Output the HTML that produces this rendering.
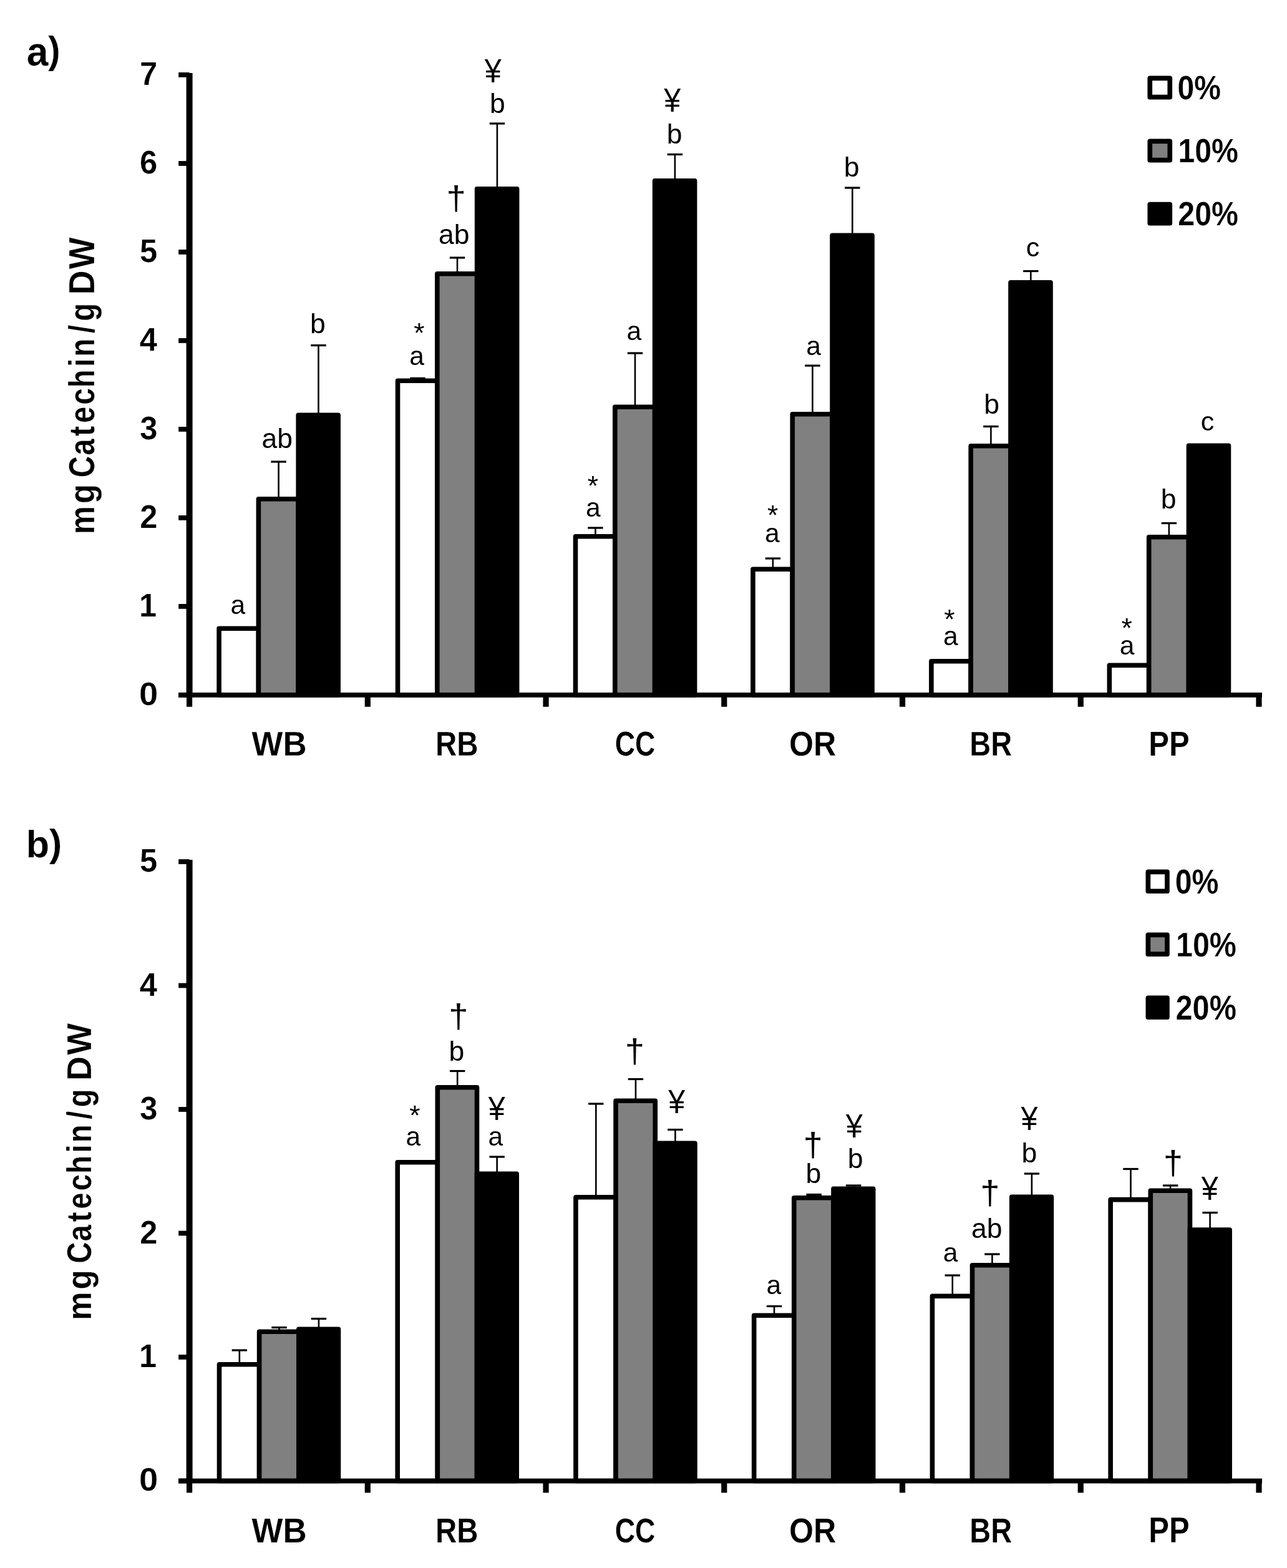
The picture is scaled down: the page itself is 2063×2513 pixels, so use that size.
<!DOCTYPE html>
<html lang="en">
<head>
<meta charset="utf-8">
<title>Catechin content</title>
<style>
html,body{margin:0;padding:0;background:#fff;}
body{width:2063px;height:2513px;overflow:hidden;}
svg{display:block;}
.b{font-family:"Liberation Sans",sans-serif;font-weight:bold;fill:#000;stroke:#fff;stroke-width:0.25px;}
.n{font-family:"Liberation Sans",sans-serif;font-weight:normal;fill:#000;}
</style>
</head>
<body>
<svg width="2063" height="2513" viewBox="0 0 2063 2513">
<rect x="0" y="0" width="2063" height="2513" fill="#ffffff"/>
<g id="chart-a">
<rect x="351.10" y="1007.30" width="63.30" height="106.55" fill="#ffffff" stroke="#000" stroke-width="7.6" stroke-linejoin="round"/>
<rect x="414.40" y="799.80" width="63.80" height="314.05" fill="#808080" stroke="#000" stroke-width="7.6" stroke-linejoin="round"/>
<rect x="478.20" y="665.30" width="64.00" height="448.55" fill="#000000" stroke="#000" stroke-width="7.6" stroke-linejoin="round"/>
<path d="M446.60 797.00V740.00" fill="none" stroke="#000" stroke-width="2.6"/><path d="M434.40 740.00H458.80" fill="none" stroke="#000" stroke-width="3.2"/>
<path d="M510.50 662.50V553.50" fill="none" stroke="#000" stroke-width="2.6"/><path d="M498.30 553.50H522.70" fill="none" stroke="#000" stroke-width="3.2"/>
<rect x="637.55" y="610.30" width="63.30" height="503.55" fill="#ffffff" stroke="#000" stroke-width="7.6" stroke-linejoin="round"/>
<rect x="700.85" y="438.80" width="63.80" height="675.05" fill="#808080" stroke="#000" stroke-width="7.6" stroke-linejoin="round"/>
<rect x="764.65" y="302.80" width="64.00" height="811.05" fill="#000000" stroke="#000" stroke-width="7.6" stroke-linejoin="round"/>
<path d="M669.50 607.50V606.30" fill="none" stroke="#000" stroke-width="2.6"/><path d="M657.30 606.30H681.70" fill="none" stroke="#000" stroke-width="3.2"/>
<path d="M733.05 436.00V413.00" fill="none" stroke="#000" stroke-width="2.6"/><path d="M720.85 413.00H745.25" fill="none" stroke="#000" stroke-width="3.2"/>
<path d="M796.95 300.00V198.00" fill="none" stroke="#000" stroke-width="2.6"/><path d="M784.75 198.00H809.15" fill="none" stroke="#000" stroke-width="3.2"/>
<rect x="922.50" y="859.80" width="63.30" height="254.05" fill="#ffffff" stroke="#000" stroke-width="7.6" stroke-linejoin="round"/>
<rect x="985.80" y="652.30" width="63.80" height="461.55" fill="#808080" stroke="#000" stroke-width="7.6" stroke-linejoin="round"/>
<rect x="1049.60" y="289.80" width="64.00" height="824.05" fill="#000000" stroke="#000" stroke-width="7.6" stroke-linejoin="round"/>
<path d="M954.45 857.00V846.00" fill="none" stroke="#000" stroke-width="2.6"/><path d="M942.25 846.00H966.65" fill="none" stroke="#000" stroke-width="3.2"/>
<path d="M1018.00 649.50V566.00" fill="none" stroke="#000" stroke-width="2.6"/><path d="M1005.80 566.00H1030.20" fill="none" stroke="#000" stroke-width="3.2"/>
<path d="M1081.90 287.00V247.50" fill="none" stroke="#000" stroke-width="2.6"/><path d="M1069.70 247.50H1094.10" fill="none" stroke="#000" stroke-width="3.2"/>
<rect x="1206.95" y="912.30" width="63.30" height="201.55" fill="#ffffff" stroke="#000" stroke-width="7.6" stroke-linejoin="round"/>
<rect x="1270.25" y="663.80" width="63.80" height="450.05" fill="#808080" stroke="#000" stroke-width="7.6" stroke-linejoin="round"/>
<rect x="1334.05" y="377.30" width="64.00" height="736.55" fill="#000000" stroke="#000" stroke-width="7.6" stroke-linejoin="round"/>
<path d="M1238.90 909.50V895.00" fill="none" stroke="#000" stroke-width="2.6"/><path d="M1226.70 895.00H1251.10" fill="none" stroke="#000" stroke-width="3.2"/>
<path d="M1302.45 661.00V586.00" fill="none" stroke="#000" stroke-width="2.6"/><path d="M1290.25 586.00H1314.65" fill="none" stroke="#000" stroke-width="3.2"/>
<path d="M1366.35 374.50V301.00" fill="none" stroke="#000" stroke-width="2.6"/><path d="M1354.15 301.00H1378.55" fill="none" stroke="#000" stroke-width="3.2"/>
<rect x="1492.90" y="1059.80" width="63.30" height="54.05" fill="#ffffff" stroke="#000" stroke-width="7.6" stroke-linejoin="round"/>
<rect x="1556.20" y="714.80" width="63.80" height="399.05" fill="#808080" stroke="#000" stroke-width="7.6" stroke-linejoin="round"/>
<rect x="1620.00" y="452.80" width="64.00" height="661.05" fill="#000000" stroke="#000" stroke-width="7.6" stroke-linejoin="round"/>
<path d="M1588.40 712.00V683.50" fill="none" stroke="#000" stroke-width="2.6"/><path d="M1576.20 683.50H1600.60" fill="none" stroke="#000" stroke-width="3.2"/>
<path d="M1652.30 450.00V434.50" fill="none" stroke="#000" stroke-width="2.6"/><path d="M1640.10 434.50H1664.50" fill="none" stroke="#000" stroke-width="3.2"/>
<rect x="1778.35" y="1066.30" width="63.30" height="47.55" fill="#ffffff" stroke="#000" stroke-width="7.6" stroke-linejoin="round"/>
<rect x="1841.65" y="860.80" width="63.80" height="253.05" fill="#808080" stroke="#000" stroke-width="7.6" stroke-linejoin="round"/>
<rect x="1905.45" y="714.30" width="64.00" height="399.55" fill="#000000" stroke="#000" stroke-width="7.6" stroke-linejoin="round"/>
<path d="M1873.85 858.00V838.50" fill="none" stroke="#000" stroke-width="2.6"/><path d="M1861.65 838.50H1886.05" fill="none" stroke="#000" stroke-width="3.2"/>
<rect x="298.60" y="117.05" width="10.00" height="1000.70" fill="#000"/>
<rect x="286.20" y="1109.95" width="1736.78" height="7.80" fill="#000"/>
<rect x="286.20" y="1109.95" width="17.40" height="7.80" fill="#000"/>
<text class="b" font-size="52.36" transform="translate(222.99 1129.83) scale(1.0400 1)">0</text>
<rect x="286.20" y="967.96" width="17.40" height="7.80" fill="#000"/>
<text class="b" font-size="52.36" transform="translate(223.12 987.86) scale(0.9700 1)">1</text>
<rect x="286.20" y="825.98" width="17.40" height="7.80" fill="#000"/>
<text class="b" font-size="52.36" transform="translate(224.13 845.88) scale(0.9700 1)">2</text>
<rect x="286.20" y="683.99" width="17.40" height="7.80" fill="#000"/>
<text class="b" font-size="52.36" transform="translate(224.32 703.74) scale(0.9700 1)">3</text>
<rect x="286.20" y="542.01" width="17.40" height="7.80" fill="#000"/>
<text class="b" font-size="52.36" transform="translate(223.75 561.91) scale(0.9700 1)">4</text>
<rect x="286.20" y="400.02" width="17.40" height="7.80" fill="#000"/>
<text class="b" font-size="52.36" transform="translate(223.94 419.90) scale(0.9700 1)">5</text>
<rect x="286.20" y="258.04" width="17.40" height="7.80" fill="#000"/>
<text class="b" font-size="52.36" transform="translate(223.94 277.91) scale(0.9700 1)">6</text>
<rect x="286.20" y="116.05" width="17.40" height="7.80" fill="#000"/>
<text class="b" font-size="52.36" transform="translate(224.01 135.95) scale(0.9700 1)">7</text>
<rect x="299.00" y="1113.85" width="9.20" height="18.90" fill="#000"/>
<rect x="584.73" y="1113.85" width="9.20" height="18.90" fill="#000"/>
<rect x="870.46" y="1113.85" width="9.20" height="18.90" fill="#000"/>
<rect x="1156.19" y="1113.85" width="9.20" height="18.90" fill="#000"/>
<rect x="1441.92" y="1113.85" width="9.20" height="18.90" fill="#000"/>
<rect x="1727.65" y="1113.85" width="9.20" height="18.90" fill="#000"/>
<rect x="2013.38" y="1113.85" width="9.20" height="18.90" fill="#000"/>
<text class="b" font-size="56.36" transform="translate(403.62 1210.75) scale(0.9391 1)">WB</text>
<text class="b" font-size="56.36" transform="translate(698.05 1210.75) scale(0.8422 1)">RB</text>
<text class="b" font-size="56.36" transform="translate(985.71 1210.75) scale(0.7953 1)">CC</text>
<text class="b" font-size="56.36" transform="translate(1264.99 1210.75) scale(0.8917 1)">OR</text>
<text class="b" font-size="56.36" transform="translate(1554.32 1210.75) scale(0.8347 1)">BR</text>
<text class="b" font-size="56.36" transform="translate(1841.19 1210.75) scale(0.8709 1)">PP</text>
<g>
<text class="b" font-size="56.90" transform="translate(150.50 0) rotate(-90) scale(0.8971 1)" x="-954.38 -899.48" y="0">mg</text>
<text class="b" font-size="56.90" transform="translate(150.50 0) rotate(-90) scale(0.8353 1)" x="-916.03 -873.60 -836.40 -811.69 -776.39 -743.77 -703.73 -684.12 -639.20 -616.22" y="0">Catechin/g</text>
<text class="b" font-size="56.90" transform="translate(150.50 0) rotate(-90) scale(0.9452 1)" x="-499.56 -456.14" y="0">DW</text>
</g>
<text class="b" font-size="65.49" transform="translate(42.63 104.50) scale(0.9535 1)">a<tspan font-size="60.86" dy="-3.38">)</tspan></text>
<rect x="1843.25" y="125.35" width="32.00" height="30.30" fill="#ffffff" stroke="#000" stroke-width="7.7" stroke-linejoin="round"/>
<text class="b" font-size="54.28" transform="translate(1887.48 159.16) scale(0.8854 1.0000)">0%</text>
<rect x="1843.25" y="226.45" width="32.00" height="30.20" fill="#808080" stroke="#000" stroke-width="7.7" stroke-linejoin="round"/>
<text class="b" font-size="54.13" transform="translate(1888.49 260.16) scale(0.8910 1.0000)">10%</text>
<rect x="1843.25" y="327.60" width="32.00" height="30.05" fill="#000000" stroke="#000" stroke-width="7.7" stroke-linejoin="round"/>
<text class="b" font-size="53.92" transform="translate(1888.31 361.16) scale(0.8962 1.0000)">20%</text>
<text class="n" font-size="42.50" x="369.55" y="983.58">a</text>
<text class="n" font-size="44.50" x="419.50" y="718.05">ab</text>
<text class="n" font-size="44.50" x="497.10" y="533.55">b</text>
<text class="n" font-size="44.57" transform="translate(663.32 548.74) scale(0.9986 1.0000)">*</text>
<text class="n" font-size="42.50" x="656.30" y="584.58">a</text>
<text class="n" font-size="54.26" transform="translate(715.50 335.59) scale(1.0382 1.0000)">†</text>
<text class="n" font-size="44.50" x="702.95" y="391.45">ab</text>
<text class="n" font-size="54.55" transform="translate(776.80 131.90) scale(0.8879 1.0000)">¥</text>
<text class="n" font-size="44.50" x="784.89" y="180.81">b</text>
<text class="n" font-size="44.57" transform="translate(941.82 794.24) scale(0.9986 1.0000)">*</text>
<text class="n" font-size="42.50" x="939.00" y="828.08">a</text>
<text class="n" font-size="42.50" x="1004.50" y="544.58">a</text>
<text class="n" font-size="54.55" transform="translate(1064.20 179.00) scale(0.8879 1.0000)">¥</text>
<text class="n" font-size="44.50" x="1068.80" y="229.56">b</text>
<text class="n" font-size="44.57" transform="translate(1230.02 841.24) scale(0.9986 1.0000)">*</text>
<text class="n" font-size="42.50" x="1226.00" y="868.58">a</text>
<text class="n" font-size="42.50" x="1292.30" y="568.58">a</text>
<text class="n" font-size="44.50" x="1352.80" y="283.06">b</text>
<text class="n" font-size="44.57" transform="translate(1513.32 1007.74) scale(0.9986 1.0000)">*</text>
<text class="n" font-size="42.50" x="1512.00" y="1033.58">a</text>
<text class="n" font-size="44.50" x="1577.30" y="663.05">b</text>
<text class="n" font-size="43.00" x="1644.63" y="410.57">c</text>
<text class="n" font-size="44.57" transform="translate(1797.62 1021.54) scale(0.9986 1.0000)">*</text>
<text class="n" font-size="42.50" x="1794.70" y="1048.88">a</text>
<text class="n" font-size="44.50" x="1860.80" y="814.55">b</text>
<text class="n" font-size="43.00" x="1924.63" y="689.57">c</text>
</g>
<g id="chart-b">
<rect x="351.50" y="2186.80" width="64.10" height="186.70" fill="#ffffff" stroke="#000" stroke-width="7.6" stroke-linejoin="round"/>
<rect x="415.60" y="2134.30" width="63.20" height="239.20" fill="#808080" stroke="#000" stroke-width="7.6" stroke-linejoin="round"/>
<rect x="478.80" y="2130.30" width="63.70" height="243.20" fill="#000000" stroke="#000" stroke-width="7.6" stroke-linejoin="round"/>
<path d="M383.85 2184.00V2164.00" fill="none" stroke="#000" stroke-width="2.6"/><path d="M371.65 2164.00H396.05" fill="none" stroke="#000" stroke-width="3.2"/>
<path d="M447.50 2131.50V2127.50" fill="none" stroke="#000" stroke-width="2.6"/><path d="M435.30 2127.50H459.70" fill="none" stroke="#000" stroke-width="3.2"/>
<path d="M510.95 2127.50V2113.50" fill="none" stroke="#000" stroke-width="2.6"/><path d="M498.75 2113.50H523.15" fill="none" stroke="#000" stroke-width="3.2"/>
<rect x="637.23" y="1862.80" width="64.10" height="510.70" fill="#ffffff" stroke="#000" stroke-width="7.6" stroke-linejoin="round"/>
<rect x="701.33" y="1742.80" width="63.20" height="630.70" fill="#808080" stroke="#000" stroke-width="7.6" stroke-linejoin="round"/>
<rect x="764.53" y="1881.30" width="63.70" height="492.20" fill="#000000" stroke="#000" stroke-width="7.6" stroke-linejoin="round"/>
<path d="M733.23 1740.00V1716.50" fill="none" stroke="#000" stroke-width="2.6"/><path d="M721.03 1716.50H745.43" fill="none" stroke="#000" stroke-width="3.2"/>
<path d="M796.68 1878.50V1854.00" fill="none" stroke="#000" stroke-width="2.6"/><path d="M784.48 1854.00H808.88" fill="none" stroke="#000" stroke-width="3.2"/>
<rect x="922.96" y="1918.80" width="64.10" height="454.70" fill="#ffffff" stroke="#000" stroke-width="7.6" stroke-linejoin="round"/>
<rect x="987.06" y="1764.30" width="63.20" height="609.20" fill="#808080" stroke="#000" stroke-width="7.6" stroke-linejoin="round"/>
<rect x="1050.26" y="1832.30" width="63.70" height="541.20" fill="#000000" stroke="#000" stroke-width="7.6" stroke-linejoin="round"/>
<path d="M955.31 1916.00V1769.00" fill="none" stroke="#000" stroke-width="2.6"/><path d="M943.11 1769.00H967.51" fill="none" stroke="#000" stroke-width="3.2"/>
<path d="M1018.96 1761.50V1729.50" fill="none" stroke="#000" stroke-width="2.6"/><path d="M1006.76 1729.50H1031.16" fill="none" stroke="#000" stroke-width="3.2"/>
<path d="M1082.41 1829.50V1810.50" fill="none" stroke="#000" stroke-width="2.6"/><path d="M1070.21 1810.50H1094.61" fill="none" stroke="#000" stroke-width="3.2"/>
<rect x="1208.69" y="2108.30" width="64.10" height="265.20" fill="#ffffff" stroke="#000" stroke-width="7.6" stroke-linejoin="round"/>
<rect x="1272.79" y="1919.80" width="63.20" height="453.70" fill="#808080" stroke="#000" stroke-width="7.6" stroke-linejoin="round"/>
<rect x="1335.99" y="1905.30" width="63.70" height="468.20" fill="#000000" stroke="#000" stroke-width="7.6" stroke-linejoin="round"/>
<path d="M1241.04 2105.50V2093.50" fill="none" stroke="#000" stroke-width="2.6"/><path d="M1228.84 2093.50H1253.24" fill="none" stroke="#000" stroke-width="3.2"/>
<path d="M1304.69 1917.00V1914.50" fill="none" stroke="#000" stroke-width="2.6"/><path d="M1292.49 1914.50H1316.89" fill="none" stroke="#000" stroke-width="3.2"/>
<path d="M1368.14 1902.50V1900.00" fill="none" stroke="#000" stroke-width="2.6"/><path d="M1355.94 1900.00H1380.34" fill="none" stroke="#000" stroke-width="3.2"/>
<rect x="1494.42" y="2077.30" width="64.10" height="296.20" fill="#ffffff" stroke="#000" stroke-width="7.6" stroke-linejoin="round"/>
<rect x="1558.52" y="2027.80" width="63.20" height="345.70" fill="#808080" stroke="#000" stroke-width="7.6" stroke-linejoin="round"/>
<rect x="1621.72" y="1918.30" width="63.70" height="455.20" fill="#000000" stroke="#000" stroke-width="7.6" stroke-linejoin="round"/>
<path d="M1526.77 2074.50V2044.00" fill="none" stroke="#000" stroke-width="2.6"/><path d="M1514.57 2044.00H1538.97" fill="none" stroke="#000" stroke-width="3.2"/>
<path d="M1590.42 2025.00V2010.00" fill="none" stroke="#000" stroke-width="2.6"/><path d="M1578.22 2010.00H1602.62" fill="none" stroke="#000" stroke-width="3.2"/>
<path d="M1653.87 1915.50V1881.00" fill="none" stroke="#000" stroke-width="2.6"/><path d="M1641.67 1881.00H1666.07" fill="none" stroke="#000" stroke-width="3.2"/>
<rect x="1780.15" y="1922.60" width="64.10" height="450.90" fill="#ffffff" stroke="#000" stroke-width="7.6" stroke-linejoin="round"/>
<rect x="1844.25" y="1908.30" width="63.20" height="465.20" fill="#808080" stroke="#000" stroke-width="7.6" stroke-linejoin="round"/>
<rect x="1907.45" y="1971.00" width="63.70" height="402.50" fill="#000000" stroke="#000" stroke-width="7.6" stroke-linejoin="round"/>
<path d="M1812.50 1919.80V1873.50" fill="none" stroke="#000" stroke-width="2.6"/><path d="M1800.30 1873.50H1824.70" fill="none" stroke="#000" stroke-width="3.2"/>
<path d="M1876.15 1905.50V1900.00" fill="none" stroke="#000" stroke-width="2.6"/><path d="M1863.95 1900.00H1888.35" fill="none" stroke="#000" stroke-width="3.2"/>
<path d="M1939.60 1968.20V1943.50" fill="none" stroke="#000" stroke-width="2.6"/><path d="M1927.40 1943.50H1951.80" fill="none" stroke="#000" stroke-width="3.2"/>
<rect x="298.60" y="1378.10" width="10.00" height="999.30" fill="#000"/>
<rect x="286.20" y="2369.60" width="1736.78" height="7.80" fill="#000"/>
<rect x="286.20" y="2369.60" width="17.40" height="7.80" fill="#000"/>
<text class="b" font-size="52.36" transform="translate(222.99 2389.48) scale(1.0400 1)">0</text>
<rect x="286.20" y="2171.10" width="17.40" height="7.80" fill="#000"/>
<text class="b" font-size="52.36" transform="translate(223.12 2191.00) scale(0.9700 1)">1</text>
<rect x="286.20" y="1972.60" width="17.40" height="7.80" fill="#000"/>
<text class="b" font-size="52.36" transform="translate(224.13 1992.50) scale(0.9700 1)">2</text>
<rect x="286.20" y="1774.10" width="17.40" height="7.80" fill="#000"/>
<text class="b" font-size="52.36" transform="translate(224.32 1793.85) scale(0.9700 1)">3</text>
<rect x="286.20" y="1575.60" width="17.40" height="7.80" fill="#000"/>
<text class="b" font-size="52.36" transform="translate(223.75 1595.50) scale(0.9700 1)">4</text>
<rect x="286.20" y="1377.10" width="17.40" height="7.80" fill="#000"/>
<text class="b" font-size="52.36" transform="translate(223.94 1396.98) scale(0.9700 1)">5</text>
<rect x="299.00" y="2373.50" width="9.20" height="18.90" fill="#000"/>
<rect x="584.73" y="2373.50" width="9.20" height="18.90" fill="#000"/>
<rect x="870.46" y="2373.50" width="9.20" height="18.90" fill="#000"/>
<rect x="1156.19" y="2373.50" width="9.20" height="18.90" fill="#000"/>
<rect x="1441.92" y="2373.50" width="9.20" height="18.90" fill="#000"/>
<rect x="1727.65" y="2373.50" width="9.20" height="18.90" fill="#000"/>
<rect x="2013.38" y="2373.50" width="9.20" height="18.90" fill="#000"/>
<text class="b" font-size="56.44" transform="translate(403.62 2472.00) scale(0.9379 1)">WB</text>
<text class="b" font-size="56.44" transform="translate(698.05 2472.00) scale(0.8411 1)">RB</text>
<text class="b" font-size="56.44" transform="translate(985.71 2472.00) scale(0.7943 1)">CC</text>
<text class="b" font-size="56.44" transform="translate(1264.99 2472.00) scale(0.8906 1)">OR</text>
<text class="b" font-size="56.44" transform="translate(1554.32 2472.00) scale(0.8336 1)">BR</text>
<text class="b" font-size="56.44" transform="translate(1841.19 2472.00) scale(0.8698 1)">PP</text>
<g>
<text class="b" font-size="56.00" transform="translate(146.00 0) rotate(-90) scale(0.9115 1)" x="-2321.25 -2267.22" y="0">mg</text>
<text class="b" font-size="56.00" transform="translate(146.00 0) rotate(-90) scale(0.8487 1)" x="-2385.85 -2344.10 -2307.48 -2283.16 -2248.43 -2216.32 -2176.91 -2157.61 -2113.40 -2090.79" y="0">Catechin/g</text>
<text class="b" font-size="56.00" transform="translate(146.00 0) rotate(-90) scale(0.9604 1)" x="-1803.25 -1760.52" y="0">DW</text>
</g>
<text class="b" font-size="61.31" transform="translate(41.78 1374.25) scale(0.9954 1)">b<tspan font-size="61.13" dy="-1.93">)</tspan></text>
<rect x="1840.35" y="1397.35" width="30.55" height="30.90" fill="#ffffff" stroke="#000" stroke-width="7.7" stroke-linejoin="round"/>
<text class="b" font-size="55.12" transform="translate(1883.67 1431.75) scale(0.8758 1.0000)">0%</text>
<rect x="1840.35" y="1498.35" width="30.55" height="30.80" fill="#808080" stroke="#000" stroke-width="7.7" stroke-linejoin="round"/>
<text class="b" font-size="54.98" transform="translate(1884.97 1532.65) scale(0.8806 1.0000)">10%</text>
<rect x="1840.35" y="1599.45" width="30.55" height="30.70" fill="#000000" stroke="#000" stroke-width="7.7" stroke-linejoin="round"/>
<text class="b" font-size="54.84" transform="translate(1884.55 1633.65) scale(0.8868 1.0000)">20%</text>
<text class="n" font-size="44.57" transform="translate(656.32 1802.74) scale(0.9986 1.0000)">*</text>
<text class="n" font-size="42.50" x="650.50" y="1836.08">a</text>
<text class="n" font-size="54.26" transform="translate(719.30 1646.84) scale(1.0382 1.0000)">†</text>
<text class="n" font-size="44.50" x="719.60" y="1699.56">b</text>
<text class="n" font-size="54.55" transform="translate(782.70 1795.00) scale(0.8879 1.0000)">¥</text>
<text class="n" font-size="42.50" x="782.50" y="1836.08">a</text>
<text class="n" font-size="54.26" transform="translate(1001.80 1703.34) scale(1.0382 1.0000)">†</text>
<text class="n" font-size="54.55" transform="translate(1071.20 1783.50) scale(0.8879 1.0000)">¥</text>
<text class="n" font-size="42.50" x="1228.50" y="2073.57">a</text>
<text class="n" font-size="54.26" transform="translate(1287.50 1852.84) scale(1.0382 1.0000)">†</text>
<text class="n" font-size="44.50" x="1291.60" y="1895.56">b</text>
<text class="n" font-size="54.55" transform="translate(1355.70 1822.50) scale(0.8879 1.0000)">¥</text>
<text class="n" font-size="44.50" x="1358.80" y="1872.06">b</text>
<text class="n" font-size="42.50" x="1511.80" y="2021.58">a</text>
<text class="n" font-size="54.26" transform="translate(1571.30 1930.34) scale(1.0382 1.0000)">†</text>
<text class="n" font-size="44.50" x="1556.95" y="1983.56">ab</text>
<text class="n" font-size="54.55" transform="translate(1636.50 1811.00) scale(0.8879 1.0000)">¥</text>
<text class="n" font-size="44.50" x="1637.60" y="1863.06">b</text>
<text class="n" font-size="54.26" transform="translate(1864.80 1881.84) scale(1.0382 1.0000)">†</text>
<text class="n" font-size="54.55" transform="translate(1925.70 1922.50) scale(0.8879 1.0000)">¥</text>
</g>
</svg>
</body>
</html>
